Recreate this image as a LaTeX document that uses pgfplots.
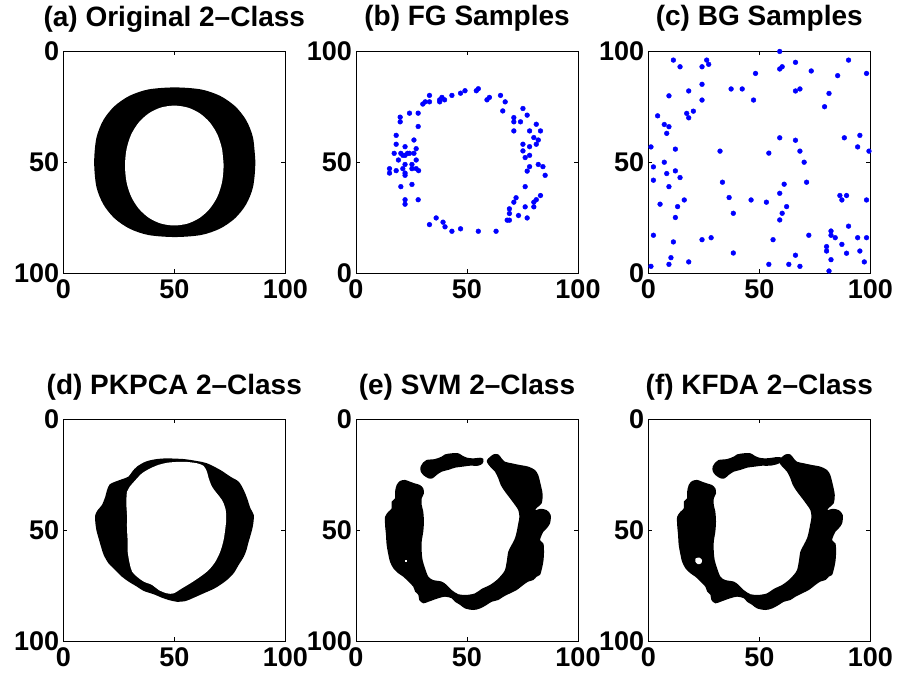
\documentclass[border=0pt]{standalone}
\usepackage{fontspec}
\setmainfont{Liberation Sans}
\usepackage{pgfplots}
\pgfplotsset{compat=1.18}

\newcommand\tk{\bfseries\fontsize{27}{27}\selectfont}
\newcommand\ttl{\bfseries\fontsize{28}{28}\selectfont}

\pgfplotsset{
  panel/.style={
    width=222pt, height=222pt, scale only axis,
    xmin=0, xmax=100, ymin=0, ymax=100,
    xtick={0,50,100}, ytick={0,50,100},
    tick align=inside, major tick length=4pt,
    axis line style={line width=0.9pt},
    every tick/.style={black, line width=0.9pt},
    /pgf/number format/assume math mode=true,
    tick label style={font=\tk, inner sep=0pt},
    xticklabel style={anchor=north, yshift=-6pt},
    yticklabel style={anchor=east, xshift=-4pt},
    title style={font=\ttl, at={(0.5,1)}, anchor=base, yshift=19pt, inner sep=0pt},
    clip=false,
  },
  img/.style={panel, y dir=reverse},
  blk/.style={fill=black, draw=none, smooth, tension=0.5},
  wht/.style={fill=white, draw=none, smooth, tension=0.5},
  dots/.style={only marks, mark=*, mark size=2.4pt, color=blue, mark options={draw=none, fill=blue}},
}

\begin{document}
\begin{tikzpicture}
\useasboundingbox (0,0) rectangle (898pt,-682pt);

% (a) original letter
\begin{axis}[img, at={(63.3pt,-51pt)}, anchor=north west, title={(a) Original 2--Class}]
\addplot[blk] coordinates {
(86.5,50.1) (85.5,39.2) (82.4,31.2) (77.4,24.9) (70.6,20.2) (62.0,17.3) (50.2,16.4)
(38.4,17.3) (29.8,20.2) (23.0,24.9) (18.0,31.2) (14.9,39.2) (13.9,50.1) (14.9,61.1)
(18.0,69.0) (23.0,75.3) (29.8,80.0) (38.4,82.9) (50.2,83.8) (62.0,82.9) (70.6,80.0)
(77.4,75.3) (82.4,69.0) (85.5,61.1) (86.5,50.1) (85.5,39.2)
};
\addplot[wht] coordinates {
(72.2,51.6) (71.5,44.2) (69.4,37.6) (66.0,32.2) (61.5,28.1) (56.1,25.5) (50.0,24.6)
(43.9,25.5) (38.5,28.1) (34.0,32.2) (30.6,37.6) (28.5,44.2) (27.8,51.6) (28.5,59.1)
(30.6,65.6) (34.0,71.0) (38.5,75.1) (43.9,77.7) (50.0,78.6) (56.1,77.7) (61.5,75.1)
(66.0,71.0) (69.4,65.6) (71.5,59.1) (72.2,51.6) (71.5,44.2)
};
\end{axis}

% (b) foreground samples
\begin{axis}[panel, at={(356pt,-51pt)}, anchor=north west, title={(b) FG Samples}]
\addplot[dots] coordinates {
(15.1,47.0) (15.1,45.0) (18.1,46.1) (17.2,53.9) (18.1,58.0) (18.1,62.0) (19.9,70.2)
(19.9,68.1) (24.1,72.0) (28.0,72.0) (28.0,66.0) (26.1,59.9) (27.1,56.0) (26.1,53.9)
(24.1,53.9) (22.1,56.9) (23.2,53.9) (22.1,53.0) (21.1,53.0) (20.2,53.9) (19.1,50.9)
(22.1,48.9) (25.2,48.9) (27.1,50.9) (27.1,47.0) (28.2,46.1) (25.2,47.0) (22.1,45.0)
(22.1,44.0) (21.1,47.0) (20.2,38.9) (25.2,39.9) (22.1,33.0) (22.1,31.0) (28.0,33.0)
(30.1,76.1) (31.2,77.1) (33.1,77.1) (33.1,80.0) (37.7,78.0) (37.7,77.1) (38.7,79.1)
(39.9,78.0) (43.2,80.0) (47.1,81.0) (49.1,82.1) (54.2,82.1) (55.1,83.0) (59.0,78.0)
(60.1,79.1) (65.1,80.0) (67.2,77.1) (66.1,73.0)
(71.1,70.0) (71.1,68.1) (75.2,74.1) (77.1,71.1) (74.1,68.1) (71.1,64.0) (78.2,64.0)
(81.2,67.0) (83.1,64.0) (80.1,61.0) (82.1,59.9) (81.2,58.0) (75.2,58.0) (78.2,56.9)
(75.2,55.0) (76.2,52.0) (78.2,53.0) (78.2,47.9) (77.1,45.9) (82.1,48.9) (84.2,47.9)
(85.2,44.0) (76.2,38.9) (72.1,33.9) (71.1,31.9) (69.1,28.9) (69.1,26.8) (68.1,23.8)
(69.1,23.8) (73.2,25.9) (76.2,29.8) (77.1,24.8) (80.1,29.8) (80.1,31.9) (81.2,33.0)
(83.1,34.9)
(33.1,21.8) (36.1,24.8) (39.2,22.9) (40.1,20.8) (43.2,18.8) (47.1,19.9) (55.1,18.8)
(63.1,18.8)
};
\end{axis}

% (c) background samples
\begin{axis}[panel, at={(648.3pt,-51pt)}, anchor=north west, title={(c) BG Samples}]
\addplot[dots] coordinates {
(1.2,56.8) (2.3,47.8) (2.3,41.8) (2.3,17.0) (1.2,3.0) (4.2,70.8) (5.3,31.0)
(7.2,66.9) (7.2,49.9) (8.3,62.9) (8.3,44.8) (9.3,65.9) (9.3,79.8) (9.3,38.9)
(9.3,3.9) (10.2,6.9) (11.3,95.9) (11.3,14.0) (12.2,55.8) (12.2,46.0) (12.2,25.0)
(13.2,29.9) (14.3,92.9) (14.3,43.0) (16.2,32.9) (17.3,71.9) (18.2,82.0) (18.2,69.9)
(18.2,5.0) (20.3,72.9) (24.2,85.0) (24.2,92.9) (24.2,77.9) (24.2,15.0) (26.3,95.9)
(27.2,94.0) (28.3,15.9) (32.3,54.9) (33.4,40.9) (36.4,34.0) (37.3,82.9) (38.3,26.9)
(38.3,9.0) (42.3,82.9) (46.3,32.9) (47.4,77.9) (48.3,89.9) (53.2,31.9) (54.3,54.0)
(54.3,3.9) (56.2,15.0) (59.2,99.8) (59.2,60.9) (59.2,35.9) (59.2,23.9) (59.2,91.9)
(60.3,92.9) (60.3,26.9) (61.2,40.0) (62.3,29.9) (63.3,3.9) (66.3,8.0) (66.3,94.9)
(66.3,82.0) (66.3,59.8) (68.3,82.9) (68.3,54.9) (68.3,3.0) (70.2,49.9) (71.3,40.9)
(72.3,17.0) (73.4,91.0) (79.4,74.9) (80.3,9.9) (80.3,11.9) (81.4,80.9) (81.4,0.9)
(82.3,18.9) (82.3,17.0) (82.3,6.0) (84.2,15.9) (85.3,88.9) (87.2,12.9) (87.2,32.9)
(86.3,34.9) (89.3,34.9) (88.3,60.9) (89.3,8.9) (90.2,21.1) (90.2,95.9) (94.3,56.8)
(94.3,15.9) (95.3,62.0) (95.3,9.9) (97.3,5.0) (98.3,89.9) (98.3,32.9) (98.3,15.9)
(99.4,54.9)
};
\end{axis}

% (d) PKPCA
\begin{axis}[img, at={(63.3pt,-419.3pt)}, anchor=north west, title={(d) PKPCA 2--Class}]
\addplot[blk] coordinates {
(46.7,17.6) (54.2,17.9) (60.2,18.8) (64.7,19.8) (70.7,22.8) (75.2,25.8) (79.0,28.1)
(81.3,31.9) (82.8,35.6) (84.3,40.1) (85.8,43.1) (85.5,47.6) (84.6,51.4) (83.5,55.1)
(82.5,58.9) (81.3,61.9) (79.0,65.6) (76.7,69.4) (73.7,72.4) (70.7,74.6) (67.7,76.4)
(63.2,78.4) (58.7,80.4) (55.0,81.9) (51.2,82.2) (47.5,81.4) (44.5,80.4) (40.7,78.8)
(36.2,77.3) (33.2,75.4) (29.4,73.1) (26.4,70.9) (23.4,67.9) (20.4,64.9) (18.2,61.1)
(17.0,57.4) (15.9,53.6) (14.9,49.9) (14.4,46.1) (14.4,43.1) (15.5,40.9) (17.4,38.6)
(18.9,34.9) (19.7,31.9) (20.9,29.3) (23.4,28.1) (26.4,27.0) (29.4,25.8) (31.0,23.6)
(33.2,21.3) (37.0,19.1) (41.5,18.0) (46.7,17.6) (54.2,17.9)
};
\addplot[wht] coordinates {
(55.7,19.2) (60.2,19.8) (63.2,21.0) (64.7,23.6) (65.5,26.6) (67.0,30.4) (69.2,33.4)
(71.5,36.4) (73.0,40.1) (73.4,44.6) (73.0,49.1) (72.2,54.4) (70.7,59.6) (68.5,64.1)
(65.5,67.9) (61.7,70.9) (57.2,73.9) (53.5,76.1) (49.7,78.4) (46.7,78.4) (43.0,76.9)
(40.0,74.6) (36.2,73.1) (33.2,70.9) (31.0,68.6) (29.9,64.9) (29.0,59.6) (29.0,55.1)
(28.7,49.1) (28.7,43.1) (28.4,37.9) (28.7,32.6) (29.9,30.4) (32.5,27.4) (35.5,24.3)
(39.2,22.1) (43.0,20.5) (46.7,19.6) (51.2,19.2) (55.7,19.2) (60.2,19.8)
};
\end{axis}

% (e) SVM
\begin{axis}[img, at={(356pt,-419.3pt)}, anchor=north west, title={(e) SVM 2--Class}]
\addplot[blk] coordinates {
(29.1,21.3) (30.3,19.4) (31.8,18.3) (35.6,17.9) (38.6,16.8) (40.1,15.8) (43.1,15.3)
(46.1,15.3) (48.0,16.4) (50.1,17.3) (52.9,17.6) (55.9,17.3) (57.4,17.9) (57.1,19.8)
(55.1,20.9) (51.4,20.9) (48.3,21.3) (44.6,21.8) (41.6,22.8) (38.6,23.6) (36.3,25.1)
(34.5,26.6) (32.6,26.6) (30.3,25.1) (29.1,23.3) (29.1,21.3) (30.3,19.4)
};
\addplot[blk] coordinates {
(59.6,17.6) (61.9,15.8) (64.1,15.8) (65.6,17.6) (67.1,19.1) (70.1,19.8) (73.9,20.6)
(77.6,21.3) (80.6,22.8) (82.1,25.1) (82.9,28.1) (83.6,31.1) (84.1,34.1) (83.6,37.9)
(81.5,39.8) (80.8,41.0) (83.0,40.3) (85.9,40.9) (87.7,43.1)
(87.4,46.9) (85.9,49.1) (84.4,50.6) (82.9,54.4) (84.4,55.9) (84.7,59.6) (84.4,64.1)
(83.6,67.9) (82.9,70.1) (81.4,70.9) (79.9,72.4) (77.6,73.1) (75.4,74.6) (72.4,76.9)
(69.4,78.4) (66.4,79.9) (64.1,81.4) (61.1,82.2) (58.9,83.6) (55.9,85.2) (52.9,85.9)
(49.1,85.2) (46.9,83.6) (44.6,82.2) (43.1,80.6) (40.1,79.9) (37.1,80.6) (34.8,81.4)
(32.6,82.2) (30.3,82.9) (28.5,81.4) (28.1,79.1) (26.6,77.6) (25.8,75.4) (23.6,73.1)
(21.3,70.9) (19.1,69.4) (16.8,67.1) (15.3,64.1) (14.6,61.1) (13.8,56.6) (13.5,52.1)
(13.1,47.6) (13.1,43.9) (14.6,41.6) (16.1,40.1) (16.1,37.1) (17.6,35.6) (17.6,32.6)
(18.3,29.6) (19.8,27.8) (22.1,27.3) (24.3,28.1) (26.6,28.9) (28.8,29.6) (30.3,31.1)
(30.6,33.4) (29.6,35.6) (29.6,38.6) (30.3,41.6) (30.6,46.1) (30.3,50.6) (29.6,55.1)
(29.6,59.6) (30.0,63.4) (31.1,67.1) (32.6,70.9) (34.8,72.4) (38.6,73.1) (40.8,74.6)
(43.1,76.9) (46.1,78.8) (49.8,79.1) (53.6,78.4) (56.6,76.4) (60.4,74.6) (63.4,72.4)
(65.6,70.1) (67.1,67.9) (67.9,64.1) (68.6,59.6) (70.1,56.6) (71.6,53.6) (72.4,50.6)
(73.1,46.9) (73.6,43.9) (73.1,40.9) (71.6,38.6) (69.4,35.6) (67.1,32.6) (65.2,29.6)
(64.1,26.6) (62.6,23.6) (60.4,21.3) (58.9,19.1) (59.6,17.6) (61.9,15.8)
};
\addplot[fill=white, draw=none] coordinates {
(22.1,63.4) (23.0,63.4) (23.0,64.3) (22.1,64.3)
};
\end{axis}

% (f) KFDA
\begin{axis}[img, at={(648.3pt,-419.3pt)}, anchor=north west, title={(f) KFDA 2--Class}]
\addplot[blk] coordinates {
(29.0,21.3) (30.2,19.4) (31.7,18.3) (35.5,17.9) (38.5,16.8) (40.0,15.8) (43.0,15.3)
(46.0,15.3) (47.9,16.4) (50.0,17.3) (52.8,17.6) (55.8,17.3) (58.0,17.0) (60.0,17.3)
(59.0,19.8) (55.0,20.9) (51.3,20.9) (48.2,21.3) (44.5,21.8) (41.5,22.8) (38.5,23.6)
(36.2,25.1) (34.4,26.6) (32.5,26.6) (30.2,25.1) (29.0,23.3) (29.0,21.3) (30.2,19.4)
};
\addplot[blk] coordinates {
(59.5,17.6) (61.8,15.8) (64.0,15.8) (65.5,17.6) (67.0,19.1) (70.0,19.8) (73.8,20.6)
(77.5,21.3) (80.5,22.8) (82.0,25.1) (82.8,28.1) (83.5,31.1) (84.0,34.1) (83.5,37.9)
(81.4,39.8) (80.7,41.0) (82.9,40.3) (85.8,40.9) (87.6,43.1)
(87.3,46.9) (85.8,49.1) (84.3,50.6) (82.8,54.4) (84.3,55.9) (84.6,59.6) (84.3,64.1)
(83.5,67.9) (82.8,70.1) (81.3,70.9) (79.8,72.4) (77.5,73.1) (75.3,74.6) (72.3,76.9)
(69.3,78.4) (66.3,79.9) (64.0,81.4) (61.0,82.2) (58.8,83.6) (55.8,85.2) (52.8,85.9)
(49.0,85.2) (46.8,83.6) (44.5,82.2) (43.0,80.6) (40.0,79.9) (37.0,80.6) (34.7,81.4)
(32.5,82.2) (30.2,82.9) (28.4,81.4) (28.0,79.1) (26.5,77.6) (25.7,75.4) (23.5,73.1)
(21.2,70.9) (19.0,69.4) (16.7,67.1) (15.2,64.1) (14.5,61.1) (13.7,56.6) (13.4,52.1)
(13.0,47.6) (13.0,43.9) (14.5,41.6) (16.0,40.1) (16.0,37.1) (17.5,35.6) (17.5,32.6)
(18.2,29.6) (19.7,27.8) (22.0,27.3) (24.2,28.1) (26.5,28.9) (28.7,29.6) (30.2,31.1)
(30.5,33.4) (29.5,35.6) (29.5,38.6) (30.2,41.6) (30.5,46.1) (30.2,50.6) (29.5,55.1)
(29.5,59.6) (29.9,63.4) (31.0,67.1) (32.5,70.9) (34.7,72.4) (38.5,73.1) (40.7,74.6)
(43.0,76.9) (46.0,78.8) (49.7,79.1) (53.5,78.4) (56.5,76.4) (60.3,74.6) (63.3,72.4)
(65.5,70.1) (67.0,67.9) (67.8,64.1) (68.5,59.6) (70.0,56.6) (71.5,53.6) (72.3,50.6)
(73.0,46.9) (73.5,43.9) (73.0,40.9) (71.5,38.6) (69.3,35.6) (67.0,32.6) (65.1,29.6)
(64.0,26.6) (62.5,23.6) (60.3,21.3) (58.8,19.1) (59.5,17.6) (61.8,15.8)
};
\addplot[wht] coordinates {
(21.4,62.6) (23.0,62.3) (24.2,63.4) (23.8,64.9) (22.3,65.2) (21.2,64.1) (21.4,62.6) (23.0,62.3)
};
\end{axis}
\end{tikzpicture}
\end{document}
